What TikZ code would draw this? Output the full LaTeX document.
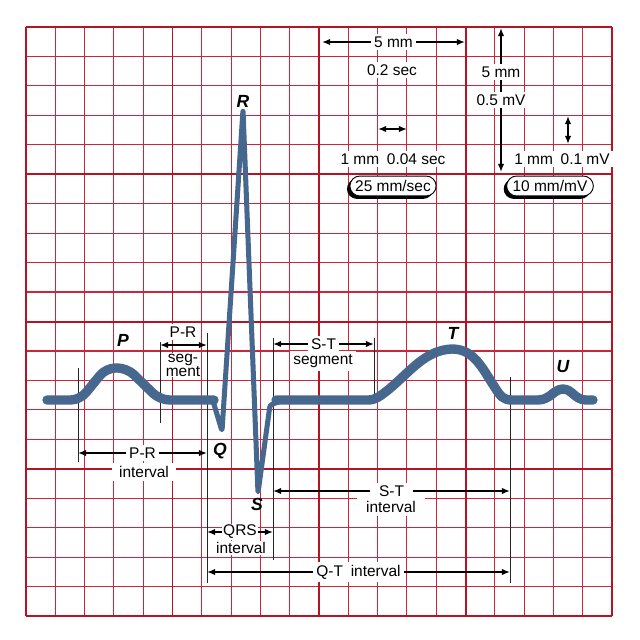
\documentclass[tikz,border=0pt]{standalone}
\usepackage{fontspec}
\setmainfont{Liberation Sans}
\usetikzlibrary{arrows.meta, shapes.misc, shadows}

\definecolor{gridred}{RGB}{202,38,62}
\definecolor{gridmaj}{RGB}{180,20,38}
\definecolor{ecgblue}{RGB}{70,104,143}

\begin{document}
\begin{tikzpicture}[x=0.3mm, y=-0.3mm,
    minor/.style={gridred, line width=0.95pt},
    major/.style={gridmaj, line width=1.7pt},
    guide/.style={black!85, line width=0.6pt},
    dim/.style={{Latex[length=7pt,width=5.5pt]}-{Latex[length=7pt,width=5.5pt]}, line width=1.2pt},
    lbl/.style={fill=white, inner sep=2.5pt, font=\fontsize{13.2}{14}\selectfont},
    wave/.style={font=\fontsize{15}{16}\selectfont\bfseries\itshape},
    trace/.style={ecgblue, line width=8pt, line join=round, line cap=round},
    spike/.style={ecgblue, line width=4.3pt, line join=round, rounded corners=2pt},
    speed/.style={rounded rectangle, draw=black, fill=white, line width=0.8pt,
      minimum height=17pt, inner xsep=3pt, font=\fontsize{13.2}{14}\selectfont,
      general shadow={fill=black, shadow xshift=-2.5pt, shadow yshift=-2.5pt}}]

  \useasboundingbox (0,0) rectangle (640,640);

  % paper grid
  \foreach \i in {0,...,20} {
    \draw[minor] ({26+29.3*\i},27) -- ({26+29.3*\i},616);
    \draw[minor] (26,{27+29.45*\i}) -- (612,{27+29.45*\i});
  }
  \foreach \i in {0,5,...,20} {
    \draw[major] ({26+29.3*\i},27) -- ({26+29.3*\i},616);
    \draw[major] (26,{27+29.45*\i}) -- (612,{27+29.45*\i});
  }

  % guide lines
  \draw[guide] (78,368) -- (78,462);
  \draw[guide] (160,342) -- (160,423);
  \draw[guide] (207,333) -- (207,583);
  \draw[guide] (273,338) -- (273,560);
  \draw[guide] (374,338) -- (374,403);
  \draw[guide] (510,377) -- (510,583);

  % the trace
  \draw[trace, rounded corners=8pt] (47,400) -- (80,400) -- (106,368) -- (127,368)
    -- (160,400) -- (214,400);
  \draw[spike] (205,400) -- (213,401) -- (222,431) -- (243,110) -- (258,493)
    -- (270,405) -- (284,400);
  \draw[trace] (276,400) -- (368,400)
    .. controls (376,400) and (380,396) .. (388,390)
    .. controls (410,372) and (425,350) .. (452,349)
    .. controls (474,349) and (482,368) .. (494,386)
    .. controls (500,396) and (503,400) .. (512,400) -- (538,400)
    .. controls (550,400) and (554,389) .. (563,389)
    .. controls (572,389) and (575,400) .. (586,400) -- (593,400);

  \node[wave] (P) at (123,340) {P};
  \node[wave] (Q) at (220,451) {Q};
  \node[wave] (R) at (243,101) {R};
  \node[wave] (S) at (257,504) {S};
  \node[wave] (T) at (453,333) {T};
  \node[wave] (U) at (563,367) {U};

  % end points of the measures
  \coordinate (prsL) at (160,345);  \coordinate (prsR) at (207,345);
  \coordinate (priL) at (78,453);   \coordinate (priR) at (207,453);
  \coordinate (stsL) at (273,344);  \coordinate (stsR) at (374,344);
  \coordinate (qrsL) at (207,532);  \coordinate (qrsR) at (273,532);
  \coordinate (stiL) at (273,491);  \coordinate (stiR) at (510,491);
  \coordinate (qtiL) at (207,572);  \coordinate (qtiR) at (510,572);
  \coordinate (secL) at (322,42);   \coordinate (secR) at (465,42);
  \coordinate (mvT) at (501,28);    \coordinate (mvB) at (501,172);
  \coordinate (msL) at (378,129);   \coordinate (msR) at (407,129);
  \coordinate (smT) at (568,116);   \coordinate (smB) at (568,144);

  \path[dim]
    (prsL) edge (prsR)
    (priL) edge node[lbl] (prI) {P-R} (priR)
    (stsL) edge node[lbl] (stS) {S-T} (stsR)
    (qrsL) edge node[lbl, inner sep=1pt] (qrsI) {QRS} (qrsR)
    (stiL) edge node[lbl, inner xsep=8pt] (stI) {S-T} (stiR)
    (qtiL) edge node[lbl] (qtI) {Q-T\enspace interval} (qtiR)
    (secL) edge node[lbl] (sec5) {5 mm} (secR)
    (mvT) edge (mvB)
    (msL) edge (msR)
    (smT) edge (smB);

  \node[lbl] (prS) at (183,332) {P-R};
  \node[lbl, align=center, inner sep=1pt] (prSeg) at (183,365) {seg-\\[-2pt]ment};
  \node[lbl, inner xsep=6pt] (prIv) at (144,472) {interval};
  \node[lbl] (stSeg) at (323,361) {segment};
  \node[lbl, inner sep=1pt] (qrsIv) at (241,548) {interval};
  \node[lbl, inner xsep=8pt] (stIv) at (391,507) {interval};

  % calibration
  \node[lbl] (sec02) at (392,70) {0.2 sec};
  \node[lbl] (mv5) at (501,72) {5 mm};
  \node[lbl] (mv05) at (501,100) {0.5 mV};
  \node[lbl] (ms04) at (393,159) {1 mm\enspace 0.04 sec};
  \node[lbl] (mv01) at (562,159) {1 mm\enspace 0.1 mV};
  \node[speed, minimum width=73pt] (paper) at (393,186) {25 mm/sec};
  \node[speed, minimum width=80pt] (gain) at (550,186) {10 mm/mV};
\end{tikzpicture}
\end{document}
